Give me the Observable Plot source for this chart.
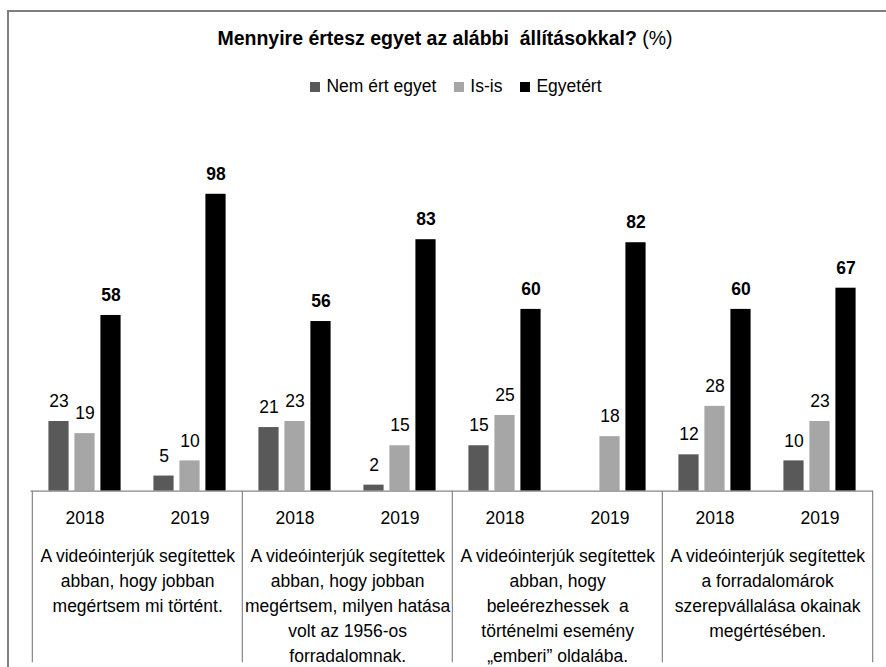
<!DOCTYPE html>
<html>
<head>
<meta charset="utf-8">
<script src="https://cdn.jsdelivr.net/npm/d3@7"></script>
<script src="https://cdn.jsdelivr.net/npm/@observablehq/plot@0.6"></script>
<style>
  html, body { margin: 0; padding: 0; background: #fff; }
  body { width: 886px; height: 667px; position: relative; overflow: hidden; font-family: "Liberation Sans", Arial, sans-serif; color: #000; }
  #frame { position: absolute; left: 7px; top: 10px; width: 879px; height: 657px; border-top: 2px solid #7f7f7f; border-left: 2px solid #7f7f7f; box-sizing: border-box; }
  #title { position: absolute; left: 0; width: 890px; top: 28.5px; text-align: center; font-size: 19.5px; line-height: 1; white-space: pre; }
  #title b { font-weight: bold; }
  #legend { position: absolute; left: 0; width: 912px; top: 78px; text-align: center; font-size: 17.5px; line-height: 1; white-space: nowrap; }
  #legend .item { display: inline-block; margin: 0 9px; }
  #legend .sw { display: inline-block; width: 10px; height: 10px; margin-right: 6px; vertical-align: 0px; }
  #chart { position: absolute; left: 0; top: 110px; }
</style>
</head>
<body>
<div id="frame"></div>
<div id="title"><b>Mennyire értesz egyet az alábbi  állításokkal?</b> (%)</div>
<div id="legend"></div>
<div id="chart"></div>
<script>
// ---- data ----
const statements = [
  "A videóinterjúk segítettek\nabban, hogy jobban\nmegértsem mi történt.",
  "A videóinterjúk segítettek\nabban, hogy jobban\nmegértsem, milyen hatása\nvolt az 1956-os\nforradalomnak.",
  "A videóinterjúk segítettek\nabban, hogy\nbeleérezhessek  a\ntörténelmi esemény\n„emberi” oldalába.",
  "A videóinterjúk segítettek\na forradalomárok\nszerepvállalása okainak\nmegértésében."
];
const years = ["2018", "2019"];
const series = ["Nem ért egyet", "Is-is", "Egyetért"];
const colors = ["#595959", "#a6a6a6", "#000000"];
// values in order: statement1 2018, statement1 2019, statement2 2018, ...
const nemErtEgyet = [23, 5, 21, 2, 15, null, 12, 10];
const isIs = [19, 10, 23, 15, 25, 18, 28, 23];
const egyetert = [58, 98, 56, 83, 60, 82, 60, 67];
const seriesValues = [nemErtEgyet, isIs, egyetert];

// ---- tidy table ----
const keys = [];
statements.forEach((s, i) => years.forEach(y => keys.push(i + "|" + y)));
const rows = [];
keys.forEach((key, j) => {
  series.forEach((s, k) => {
    const v = seriesValues[k][j];
    if (v != null) rows.push({key, series: s, k, value: v});
  });
});

// ---- legend ----
const legend = document.getElementById("legend");
series.forEach((s, k) => {
  const item = document.createElement("span");
  item.className = "item";
  const sw = document.createElement("span");
  sw.className = "sw";
  sw.style.background = colors[k];
  item.appendChild(sw);
  item.appendChild(document.createTextNode(s));
  legend.appendChild(item);
});

// ---- layout ----
const W = 886, H = 557;
const mL = 30.5, mR = 13, mT = 77.7, mB = 176.3;
const bw = (W - mL - mR) / keys.length;
const plotH = H - mT - mB;
const barW = 20.5;
const offsets = [-26, 0, 26];
const fs = 17.5;
const gridColor = "#868686";

const marks = [];
series.forEach((s, k) => {
  const d = rows.filter(r => r.k === k);
  marks.push(Plot.barY(d, {
    x: "key", y: "value", fill: colors[k],
    insetLeft: bw / 2 + offsets[k] - barW / 2,
    insetRight: bw / 2 - offsets[k] - barW / 2
  }));
  marks.push(Plot.text(d, {
    x: "key", y: "value", text: d => String(d.value),
    dx: offsets[k], dy: -20, fontSize: fs,
    fontWeight: k === 2 ? "bold" : "normal", fill: "#000"
  }));
});
marks.push(Plot.ruleY([0], {stroke: gridColor, strokeWidth: 1.2}));
// group separators below the baseline
const firstKeys = statements.map((s, i) => i + "|" + years[0]);
const lastKey = keys[keys.length - 1];
marks.push(Plot.ruleX(firstKeys, {x: d => d, dx: -bw / 2, insetTop: plotH, insetBottom: -171.5, stroke: gridColor, strokeWidth: 1.2}));
marks.push(Plot.ruleX([lastKey], {x: d => d, dx: bw / 2, insetTop: plotH, insetBottom: -171.5, stroke: gridColor, strokeWidth: 1.2}));
// statement labels
marks.push(Plot.text(statements, {
  x: (d, i) => firstKeys[i], y: () => 0, text: d => d,
  dx: bw / 2, dy: 52.5, lineAnchor: "top", lineHeight: 1.44,
  fontSize: fs, fill: "#000", textAnchor: "middle"
}));

const chart = Plot.plot({
  width: W, height: H,
  marginLeft: mL, marginRight: mR, marginTop: mT, marginBottom: mB,
  style: {fontFamily: "Liberation Sans, Arial, sans-serif", fontSize: fs + "px", color: "#000", background: "transparent", overflow: "visible"},
  x: {domain: keys, padding: 0, tickFormat: k => k.split("|")[1], tickSize: 0, tickPadding: 20, label: null},
  y: {domain: [0, 100], axis: null},
  marks
});
document.getElementById("chart").appendChild(chart);
</script>
</body>
</html>
